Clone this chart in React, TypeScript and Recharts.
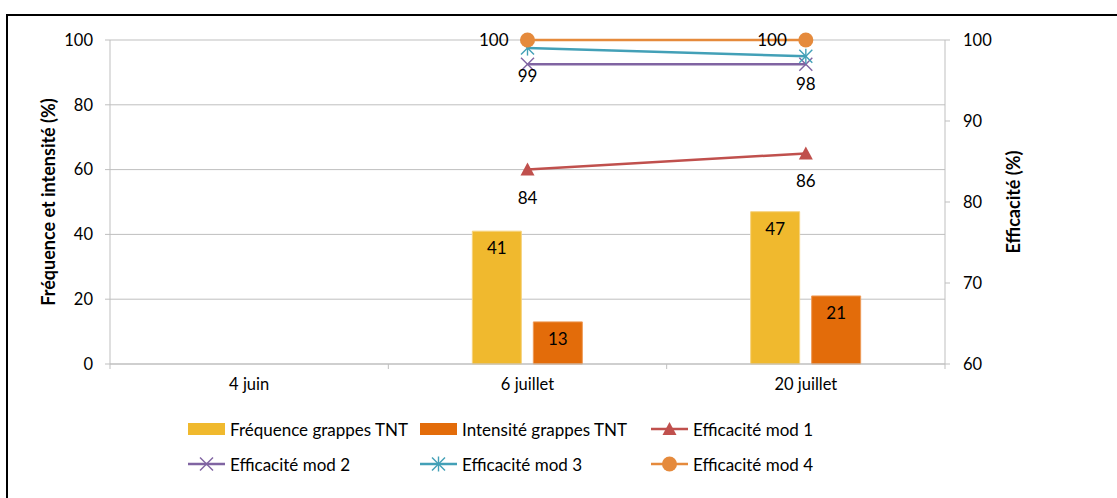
import React from 'react';
import {
  ComposedChart,
  Bar,
  Line,
  XAxis,
  YAxis,
  CartesianGrid,
  Legend,
  LabelList,
} from 'recharts';

const CATEGORIES = ['4 juin', '6 juillet', '20 juillet'];
const FREQUENCE = [null, 41, 47];
const INTENSITE = [null, 13, 21];
const MOD1 = [null, 84, 86];
const MOD2 = [null, 97, 97];
const MOD3 = [null, 99, 98];
const MOD4 = [null, 100, 100];

const LEFT_TICKS = [0, 20, 40, 60, 80, 100];
const RIGHT_TICKS = [60, 70, 80, 90, 100];

const FONT = 'Lato, "Open Sans", sans-serif';
const GRID = '#BFBFBF';

const COLORS = {
  freq: '#F0B92E',
  intens: '#E36C0A',
  mod1: '#C0504D',
  mod2: '#8064A2',
  mod3: '#43A0B7',
  mod4: '#E58A3C',
};

const data = CATEGORIES.map((name, i) => ({
  name,
  freq: FREQUENCE[i],
  intens: INTENSITE[i],
  mod1: MOD1[i],
  mod2: MOD2[i],
  mod3: MOD3[i],
  mod4: MOD4[i],
}));

type MarkerKind = 'triangle' | 'cross' | 'star' | 'circle';

// marker glyphs shared by the lines and the legend
const Marker = ({ kind, cx, cy, color }: { kind: MarkerKind; cx: number; cy: number; color: string }) => {
  if (kind === 'triangle') {
    return <polygon points={`${cx},${cy - 7} ${cx - 7},${cy + 6} ${cx + 7},${cy + 6}`} fill={color} />;
  }
  if (kind === 'circle') {
    return <circle cx={cx} cy={cy} r={7.5} fill={color} />;
  }
  const s = 6.5;
  return (
    <g stroke={color} strokeWidth={1.4}>
      <line x1={cx - s} y1={cy - s} x2={cx + s} y2={cy + s} />
      <line x1={cx - s} y1={cy + s} x2={cx + s} y2={cy - s} />
      {kind === 'star' && <line x1={cx} y1={cy - s - 1} x2={cx} y2={cy + s + 1} />}
    </g>
  );
};

const makeDot = (kind: MarkerKind, color: string) => (props: any) => {
  const { cx, cy, value, index } = props;
  if (value == null || cx == null || cy == null) return <g key={`e-${index}`} />;
  return (
    <g key={`d-${index}`}>
      <Marker kind={kind} cx={cx} cy={cy} color={color} />
    </g>
  );
};

const LEGEND_ITEMS: { key: string; name: string; type: 'bar' | MarkerKind }[] = [
  { key: 'freq', name: 'Fréquence grappes TNT', type: 'bar' },
  { key: 'intens', name: 'Intensité grappes TNT', type: 'bar' },
  { key: 'mod1', name: 'Efficacité mod 1', type: 'triangle' },
  { key: 'mod2', name: 'Efficacité mod 2', type: 'cross' },
  { key: 'mod3', name: 'Efficacité mod 3', type: 'star' },
  { key: 'mod4', name: 'Efficacité mod 4', type: 'circle' },
];

const ChartLegend = () => (
  <div
    style={{
      height: 82,
      boxSizing: 'border-box',
      paddingTop: 23,
      paddingLeft: 180,
      display: 'grid',
      gridTemplateColumns: '232px 231px 231px',
      gridAutoRows: '24px',
      rowGap: 11,
      fontFamily: FONT,
      fontSize: 17,
      color: '#000',
    }}
  >
    {LEGEND_ITEMS.map((item) => {
      const color = (COLORS as any)[item.key];
      return (
        <div key={item.key} style={{ display: 'flex', alignItems: 'center', whiteSpace: 'nowrap' }}>
          <svg width={37} height={20} style={{ marginRight: 5 }}>
            {item.type === 'bar' ? (
              <rect x={0} y={4} width={37} height={12} fill={color} />
            ) : (
              <>
                <line x1={0} y1={10} x2={37} y2={10} stroke={color} strokeWidth={2.5} />
                <Marker kind={item.type} cx={18.5} cy={10} color={color} />
              </>
            )}
          </svg>
          <span>{item.name}</span>
        </div>
      );
    })}
  </div>
);

// category label plus Excel style tick marks at band boundaries
const CategoryTick = (props: any) => {
  const { x, y, payload, index } = props;
  const half = payload && payload.offset ? payload.offset : 139;
  return (
    <g>
      <line x1={x - half} y1={y - 5} x2={x - half} y2={y} stroke={GRID} />
      {index === CATEGORIES.length - 1 && (
        <line x1={x + half} y1={y - 5} x2={x + half} y2={y} stroke={GRID} />
      )}
      <text x={x} y={y + 21} textAnchor="middle" fontFamily={FONT} fontSize={16.5} fill="#000">
        {payload.value}
      </text>
    </g>
  );
};

const axisTitle = (text: string, x: number) => (props: any) => {
  const vb = props.viewBox;
  const cy = vb.y + vb.height / 2;
  return (
    <text
      x={x}
      y={cy}
      transform={`rotate(-90, ${x}, ${cy})`}
      textAnchor="middle"
      dominantBaseline="central"
      fontFamily={FONT}
      fontWeight="bold"
      fontSize={18}
      fill="#000"
    >
      {text}
    </text>
  );
};

const tickStyle = { fontFamily: FONT, fontSize: 16.5, fill: '#000' };
const labelStyle = { fontFamily: FONT, fontSize: 17, fill: '#000' };

export default function App() {
  return (
    <div
      style={{
        position: 'absolute',
        left: 6,
        top: 14,
        width: 1111,
        height: 484,
        borderLeft: '2px solid #000',
        borderTop: '2px solid #000',
        boxSizing: 'border-box',
        overflow: 'hidden',
        background: '#fff',
      }}
    >
      <ComposedChart
        width={1100}
        height={480}
        data={data}
        margin={{ top: 24, right: 0, bottom: 20, left: 0 }}
        barSize={49}
        barGap={12}
      >
        <CartesianGrid yAxisId="left" vertical={false} stroke={GRID} />
        <XAxis
          dataKey="name"
          axisLine={{ stroke: GRID }}
          tickLine={false}
          tickSize={5}
          tickMargin={0}
          height={30}
          tick={<CategoryTick />}
          interval={0}
        />
        <YAxis
          yAxisId="left"
          width={102}
          domain={[0, 100]}
          ticks={LEFT_TICKS}
          axisLine={{ stroke: GRID }}
          tickLine={{ stroke: GRID }}
          tickSize={5}
          tickMargin={12}
          tick={tickStyle}
          label={{ content: axisTitle('Fréquence et intensité (%)', 40) }}
        />
        <YAxis
          yAxisId="right"
          orientation="right"
          width={163}
          domain={[60, 100]}
          ticks={RIGHT_TICKS}
          axisLine={{ stroke: GRID }}
          tickLine={{ stroke: GRID }}
          tickSize={5}
          tickMargin={13}
          tick={{ ...tickStyle, textAnchor: 'start' }}
          label={{ content: axisTitle('Efficacité (%)', 1005) }}
        />
        <Legend content={<ChartLegend />} wrapperStyle={{ left: 0, top: 378, width: 1100 }} />
        <Bar yAxisId="left" dataKey="freq" name="Fréquence grappes TNT" fill={COLORS.freq} stroke="#F6D37E" strokeWidth={1} isAnimationActive={false}>
          <LabelList dataKey="freq" position="insideTop" offset={11} style={labelStyle} />
        </Bar>
        <Bar yAxisId="left" dataKey="intens" name="Intensité grappes TNT" fill={COLORS.intens} stroke="#EE9A57" strokeWidth={1} isAnimationActive={false}>
          <LabelList dataKey="intens" position="insideTop" offset={11} style={labelStyle} />
        </Bar>
        <Line yAxisId="right" dataKey="mod1" name="Efficacité mod 1" stroke={COLORS.mod1} strokeWidth={2.5} dot={makeDot('triangle', COLORS.mod1)} activeDot={false} isAnimationActive={false}>
          <LabelList dataKey="mod1" position="bottom" offset={22} style={labelStyle} />
        </Line>
        <Line yAxisId="right" dataKey="mod2" name="Efficacité mod 2" stroke={COLORS.mod2} strokeWidth={2.5} dot={makeDot('cross', COLORS.mod2)} activeDot={false} isAnimationActive={false} />
        <Line yAxisId="right" dataKey="mod3" name="Efficacité mod 3" stroke={COLORS.mod3} strokeWidth={2.5} dot={makeDot('star', COLORS.mod3)} activeDot={false} isAnimationActive={false}>
          <LabelList dataKey="mod3" position="bottom" offset={22} style={labelStyle} />
        </Line>
        <Line yAxisId="right" dataKey="mod4" name="Efficacité mod 4" stroke={COLORS.mod4} strokeWidth={2.5} dot={makeDot('circle', COLORS.mod4)} activeDot={false} isAnimationActive={false}>
          <LabelList dataKey="mod4" position="left" offset={19} style={labelStyle} />
        </Line>
      </ComposedChart>
    </div>
  );
}
